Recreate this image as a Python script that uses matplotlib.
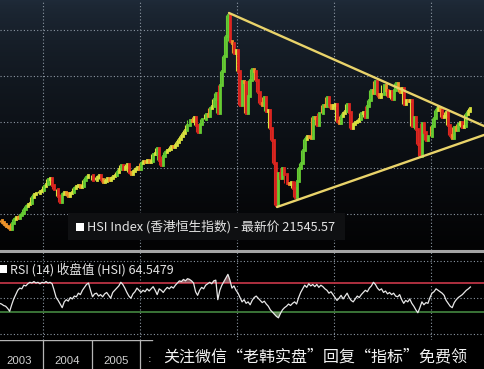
import numpy as np
import matplotlib
matplotlib.use("Agg")
import matplotlib.pyplot as plt
from matplotlib.patches import Rectangle
from matplotlib.lines import Line2D

# ---- Hang Seng Index, semi-monthly closes (first half / second half of each month) ----
hsi_2003 = [9350, 9120, 8900, 8700, 8600, 8400, 9000, 9490, 9700, 9580, 9850, 10130,
            10500, 10900, 11100, 11230, 11900, 12190, 12300, 12320, 12500, 12580]  # Feb-Dec
hsi_2004 = [13000, 13290, 13800, 13910, 13200, 12680, 12700, 11940, 11300, 12200, 12400, 12290,
            12000, 12240, 12400, 12850, 13000, 13120, 12900, 13050, 13700, 14060, 14200, 14230]
hsi_2005 = [13700, 13720, 14000, 14200, 13800, 13520, 13600, 13910, 13700, 13870, 14100, 14200,
            14600, 14880, 15300, 14900, 15100, 15430, 14600, 14390, 14700, 14940, 15100, 14880]
hsi_2006 = [15500, 15750, 15700, 15920, 15600, 15810, 16500, 16660, 17200, 15860, 15300, 16270,
            16700, 16970, 17100, 17390, 17300, 17540, 17800, 18120, 18500, 18760, 19100, 19700]
hsi_2007 = [20200, 20110, 20500, 19650, 18900, 19800, 20300, 20320, 20900, 20630, 21500, 21770,
            22500, 23180, 21000, 23980, 25500, 27140, 29400, 31600, 28800, 28640, 27500, 27810]
hsi_2008 = [25500, 21800, 24500, 24300, 21000, 22850, 24600, 25760, 25500, 24530, 23300, 22100,
            21800, 22730, 21200, 21260, 19300, 18020, 15500, 11000, 14500, 13890, 15000, 14390]
hsi_2009 = [13400, 13280, 13500, 12810, 11800, 13580, 15000, 15520, 17000, 18170, 18500, 18380,
            18300, 20570, 20400, 19720, 21000, 20960, 21900, 21750, 22700, 21820, 21500, 21870]
hsi_2010 = [22000, 20120, 19900, 20610, 21000, 21240, 22000, 21110, 19300, 19770, 20000, 20130,
            20300, 21030, 21100, 20540, 21700, 22360, 23500, 23100, 24500, 23010, 22700, 23040]
hsi_2011 = [24000, 23450, 22800, 23340, 22500, 23530, 24200, 23720, 23300, 23680, 22000, 22400,
            22300, 22440, 19600, 20530, 19200, 17590, 16300, 19860, 18900, 17990, 18500, 18430]
hsi_2012 = [19600, 20390, 21300, 21680, 21300, 20560, 20600, 21090, 19700, 18630, 18300, 19440,
            19100, 19800, 20000, 19480, 19600, 20840, 21200, 21545.57]  # Jan-Oct

# ---- RSI(14) of the same index, sampled on the same semi-monthly grid ----
rsi_2003 = [42, 41, 39, 38, 35, 31, 40, 48, 54, 60, 63, 62, 67, 66, 69, 71, 70, 72, 70, 71, 69, 71]
rsi_2004 = [70, 72, 70, 71, 69, 60, 50, 46, 41, 36, 44, 47, 45, 50, 48, 52, 51, 56, 54, 60, 64, 68, 70, 60]
rsi_2005 = [51, 55, 56, 52, 54, 51, 55, 57, 53, 49, 57, 60, 63, 66, 71, 68, 63, 57, 52, 49, 55, 58, 63, 60]
rsi_2006 = [57, 60, 58, 62, 59, 62, 65, 60, 54, 62, 60, 57, 61, 64, 62, 65, 63, 67, 70, 73, 72, 75, 73, 76]
rsi_2007 = [75, 73, 70, 58, 53, 60, 64, 62, 67, 69, 71, 69, 73, 74, 47, 60, 67, 72, 77, 82, 74, 63, 66, 60]
rsi_2008 = [56, 50, 44, 47, 42, 44, 40, 46, 50, 52, 49, 46, 43, 45, 41, 38, 33, 30, 27, 24, 22, 28, 33, 36]
rsi_2009 = [38, 41, 39, 42, 44, 41, 50, 57, 62, 67, 64, 69, 66, 68, 65, 68, 64, 67, 65, 62, 60, 56, 58, 54]
rsi_2010 = [50, 46, 49, 53, 48, 52, 56, 50, 46, 44, 48, 52, 50, 54, 57, 60, 58, 63, 66, 71, 68, 63, 60, 62]
rsi_2011 = [57, 59, 55, 57, 54, 56, 52, 51, 54, 47, 42, 46, 44, 48, 42, 38, 33, 29, 36, 44, 40, 43, 42, 50]
rsi_2012 = [56, 58, 62, 60, 58, 56, 53, 46, 42, 38, 36, 43, 47, 50, 52, 54, 57, 60, 62, 64.5479]

# ---- triangle trendlines (date as decimal year, index level) ----
upper_trend_t = [2007.835, 2013.093]
upper_trend_v = [31850, 19560]
lower_trend_t = [2008.825, 2013.093]
lower_trend_v = [10760, 18590]

year_labels = ["2003", "2004", "2005"]
last_price = "21545.57"
last_rsi = "64.5479"

# ---------------------------------------------------------------------------
W, H = 484, 369
fig = plt.figure(figsize=(W / 100, H / 100), dpi=100, facecolor="black")

CJK = ["Noto Sans CJK SC", "DejaVu Sans"]


def fx(px):
    return px / W


def fy(py):
    return 1 - py / H


# build the time axis from the year lists
def half_month_times(year, n, first=0):
    return [year + (k + 0.5) / 24 for k in range(first, first + n)]


price_lists = [hsi_2003, hsi_2004, hsi_2005, hsi_2006, hsi_2007,
               hsi_2008, hsi_2009, hsi_2010, hsi_2011, hsi_2012]
rsi_lists = [rsi_2003, rsi_2004, rsi_2005, rsi_2006, rsi_2007,
             rsi_2008, rsi_2009, rsi_2010, rsi_2011, rsi_2012]
t = []
for i, lst in enumerate(price_lists):
    t += half_month_times(2003 + i, len(lst), first=2 if i == 0 else 0)
t = np.array(t)
close = np.concatenate([np.array(v, float) for v in price_lists])
rsi = np.concatenate([np.array(v, float) for v in rsi_lists])

x0, x1 = 2003.113, 2013.093
grid_years = [2004, 2006, 2008, 2010, 2012]
dot = dict(color="#8d98a4", lw=0.8, linestyle=(0, (1, 2)))

# ---------------- price panel ----------------
ax = fig.add_axes([0, fy(250), 1, 250 / H])
ax.set_xlim(x0, x1)
ax.set_ylim(6087, 33261)
ax.set_axis_off()

# navy-to-black backdrop
g = np.linspace(0, 1, 256) ** 0.65
top = np.array([31, 43, 57]) / 255
bot = np.array([3, 3, 4]) / 255
grad = (top[None, :] * (1 - g[:, None]) + bot[None, :] * g[:, None])[:, None, :]
ax.imshow(grad, extent=[x0, x1, 6087, 33261], aspect="auto", origin="upper", zorder=0)

for v in [10000, 15000, 20000, 25000, 30000]:
    ax.axhline(v, zorder=1, **dot)
for yv in grid_years:
    ax.axvline(yv, zorder=1, **dot)

# each bar: body from previous close to close, thin wick reaching the next close
prev = np.concatenate([[close[0]], close[:-1]])
nxt = np.concatenate([close[1:], [close[-1]]])
chg = (close - prev) / prev
colors = np.where(chg > 0.025, "#66cc33",
         np.where(chg > 0, "#d9e23f",
         np.where(chg > -0.025, "#f0952a", "#dd2620")))
wick_lo = np.minimum.reduce([prev, close, nxt])
wick_hi = np.maximum.reduce([prev, close, nxt])
ax.vlines(t, wick_lo, wick_hi, colors=colors, linewidth=0.8, zorder=2.8)
bars = ax.vlines(t, np.minimum(prev, close), np.maximum(prev, close),
                 colors=colors, linewidth=2.0, zorder=3)
bars.set_capstyle("projecting")

trend_kw = dict(color="#e9d36a", lw=1.7, zorder=4, solid_capstyle="round")
ax.plot(upper_trend_t, upper_trend_v, **trend_kw)
ax.plot(lower_trend_t, lower_trend_v, **trend_kw)

# legend box of the price panel
fig.patches.append(Rectangle((fx(68), fy(240)), fx(277), 27 / H,
                             transform=fig.transFigure, facecolor="#0f1012",
                             edgecolor="none", zorder=5))
fig.patches.append(Rectangle((fx(75.5), fy(231)), fx(8), 8 / H,
                             transform=fig.transFigure, facecolor="white",
                             edgecolor="none", zorder=6))
fig.text(fx(87), fy(227), "HSI Index (香港恒生指数) - 最新价 " + last_price,
         color="#e4e4e4", fontsize=9.2, family=CJK, va="center", ha="left", zorder=7)

# separator between panels
fig.add_artist(Line2D([0, 1], [fy(251), fy(251)], transform=fig.transFigure,
                      color="#a3a3a3", lw=2.2))

# ---------------- RSI panel ----------------
ar = fig.add_axes([0, fy(340), 1, 88 / H])
ar.set_xlim(x0, x1)
ar.set_ylim(-8.6, 112.8)
ar.set_axis_off()
ar.add_patch(Rectangle((0, 0), 1, 1, transform=ar.transAxes, facecolor="black", zorder=0))
for v in [0, 50, 100]:
    ar.axhline(v, zorder=1, **dot)
for yv in grid_years:
    ar.axvline(yv, zorder=1, **dot)
ar.axhline(70, color="#bb3444", lw=1.3, zorder=2)
ar.axhline(30, color="#3f7d3b", lw=1.3, zorder=2)
ar.fill_between(t, 70, rsi, where=rsi > 70, interpolate=True,
                color="#e8a0a8", alpha=0.55, lw=0, zorder=2.5)
ar.fill_between(t, 30, rsi, where=rsi < 30, interpolate=True,
                color="#9fd08f", alpha=0.6, lw=0, zorder=2.5)
ar.plot(t, rsi, color="#e8e8e8", lw=0.9, zorder=3)

fig.patches.append(Rectangle((fx(0), fy(273)), fx(7), 8 / H,
                             transform=fig.transFigure, facecolor="white",
                             edgecolor="none", zorder=6))
fig.text(fx(10), fy(269.5), "RSI (14) 收盘值 (HSI) " + last_rsi,
         color="#e4e4e4", fontsize=9.0, family=CJK, va="center", ha="left", zorder=7)

# ---------------- date strip ----------------
ad = fig.add_axes([0, 0, 1, 29 / H])
ad.set_xlim(x0, x1)
ad.set_ylim(0, 1)
ad.set_axis_off()
ad.add_patch(Rectangle((0, 0), 1, 1, transform=ad.transAxes, facecolor="black", zorder=0))
ad.axhline(1, xmin=0, xmax=152 / W, color="#b5b5b5", lw=1.0)
for yr in [2004, 2005, 2006]:
    ad.axvline(yr, color="#b5b5b5", lw=0.9)
for lab in year_labels:
    yr = int(lab)
    ad.text((max(yr, x0 - 0.11) + yr + 1) / 2, 0.28, lab, color="#d0d0d0",
            fontsize=8.2, ha="center", va="center", family=["Liberation Sans", "DejaVu Sans"])
ad.text(2006.2, 0.35, ":", color="#d0d0d0", fontsize=8, ha="center", va="center")

# footer note
fig.patches.append(Rectangle((fx(153), 0), 1 - fx(153), 28 / H,
                             transform=fig.transFigure, facecolor="black",
                             edgecolor="none", zorder=8))
fig.text(fx(163), fy(357), "关注微信“老韩实盘”回复“指标”免费领", color="#f2f2f2",
         fontsize=11.5, family=CJK, va="center", ha="left", zorder=9)

fig.savefig("out.png", dpi=100, facecolor="black")
